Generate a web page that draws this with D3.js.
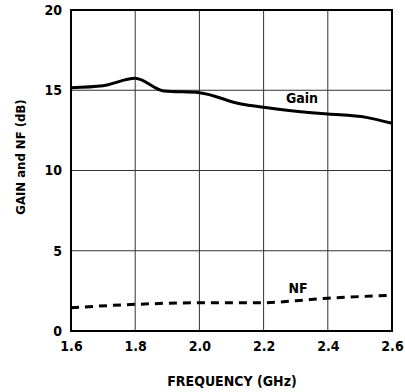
<!DOCTYPE html>
<html>
<head>
<meta charset="utf-8">
<script src="https://cdn.jsdelivr.net/npm/d3@7"></script>
<style>
  body { margin: 0; background: #fff; }
  text { font-family: "Liberation Sans Narrow", "DejaVu Sans Condensed", sans-serif; font-weight: bold; fill: #000; }
</style>
</head>
<body>
<svg id="chart"></svg>
<script>
// values
var freq = [1.6, 1.7, 1.8, 1.89, 2.0, 2.13, 2.2, 2.35, 2.4, 2.52, 2.6]
var gain = [15.16, 15.28, 15.74, 14.95, 14.85, 14.14, 13.94, 13.6, 13.52, 13.31, 12.94]

var nfFreq = [1.6, 1.8, 2.0, 2.2, 2.3, 2.4, 2.6]
var nf = [1.45, 1.66, 1.76, 1.76, 1.89, 2.04, 2.22]

var xTicks = [1.6, 1.8, 2.0, 2.2, 2.4, 2.6]
var yTicks = [0, 5, 10, 15, 20]

var vis = {
  "width": 405,
  "height": 392,
  "left": 71,
  "right": 392,
  "top": 10,
  "bottom": 331
}

function main() {
  let svg = d3.select("#chart")
    .attr("width", vis.width)
    .attr("height", vis.height)

  let xScale = d3.scaleLinear().domain([1.6, 2.6]).range([vis.left, vis.right])
  let yScale = d3.scaleLinear().domain([0, 20]).range([vis.bottom, vis.top])

  // grid lines
  svg.append("g")
    .selectAll("line")
    .data(xTicks.slice(1, -1))
    .enter()
    .append("line")
    .attr("x1", d => xScale(d)).attr("x2", d => xScale(d))
    .attr("y1", vis.top).attr("y2", vis.bottom)
    .style("stroke", "#333").style("stroke-width", 1)

  svg.append("g")
    .selectAll("line")
    .data(yTicks.slice(1, -1))
    .enter()
    .append("line")
    .attr("x1", vis.left).attr("x2", vis.right)
    .attr("y1", d => yScale(d)).attr("y2", d => yScale(d))
    .style("stroke", "#333").style("stroke-width", 1)

  // frame
  svg.append("rect")
    .attr("x", vis.left).attr("y", vis.top)
    .attr("width", vis.right - vis.left).attr("height", vis.bottom - vis.top)
    .style("fill", "none").style("stroke", "#000").style("stroke-width", 2)

  // axes (labels only)
  let xAxis = svg.append("g")
    .attr("transform", "translate(0," + vis.bottom + ")")
    .call(d3.axisBottom(xScale).tickValues(xTicks).tickSize(0).tickPadding(10).tickFormat(d3.format(".1f")))
  xAxis.select(".domain").remove()
  xAxis.selectAll("text").style("font-size", "14px")

  let yAxis = svg.append("g")
    .attr("transform", "translate(" + vis.left + ",0)")
    .call(d3.axisLeft(yScale).tickValues(yTicks).tickSize(0).tickPadding(9))
  yAxis.select(".domain").remove()
  yAxis.selectAll("text").style("font-size", "14px")

  let line = d3.line()
    .x(d => xScale(d[0]))
    .y(d => yScale(d[1]))
    .curve(d3.curveMonotoneX)

  svg.append("path")
    .datum(d3.zip(freq, gain))
    .attr("d", line)
    .style("fill", "none").style("stroke", "#000").style("stroke-width", 3)

  svg.append("path")
    .datum(d3.zip(nfFreq, nf))
    .attr("d", line)
    .style("fill", "none").style("stroke", "#000").style("stroke-width", 3)
    .style("stroke-dasharray", "8,6")

  // series labels
  svg.append("text").attr("x", 302).attr("y", 103)
    .attr("text-anchor", "middle").style("font-size", "14px").text("Gain")
  svg.append("text").attr("x", 298).attr("y", 293)
    .attr("text-anchor", "middle").style("font-size", "14px").text("NF")

  // axis titles
  svg.append("text").attr("x", 232).attr("y", 386)
    .attr("text-anchor", "middle").style("font-size", "14px").text("FREQUENCY (GHz)")
  svg.append("text")
    .attr("transform", "translate(25,157) rotate(-90)")
    .attr("text-anchor", "middle").style("font-size", "13px").text("GAIN and NF (dB)")
}

main()
</script>
</body>
</html>
